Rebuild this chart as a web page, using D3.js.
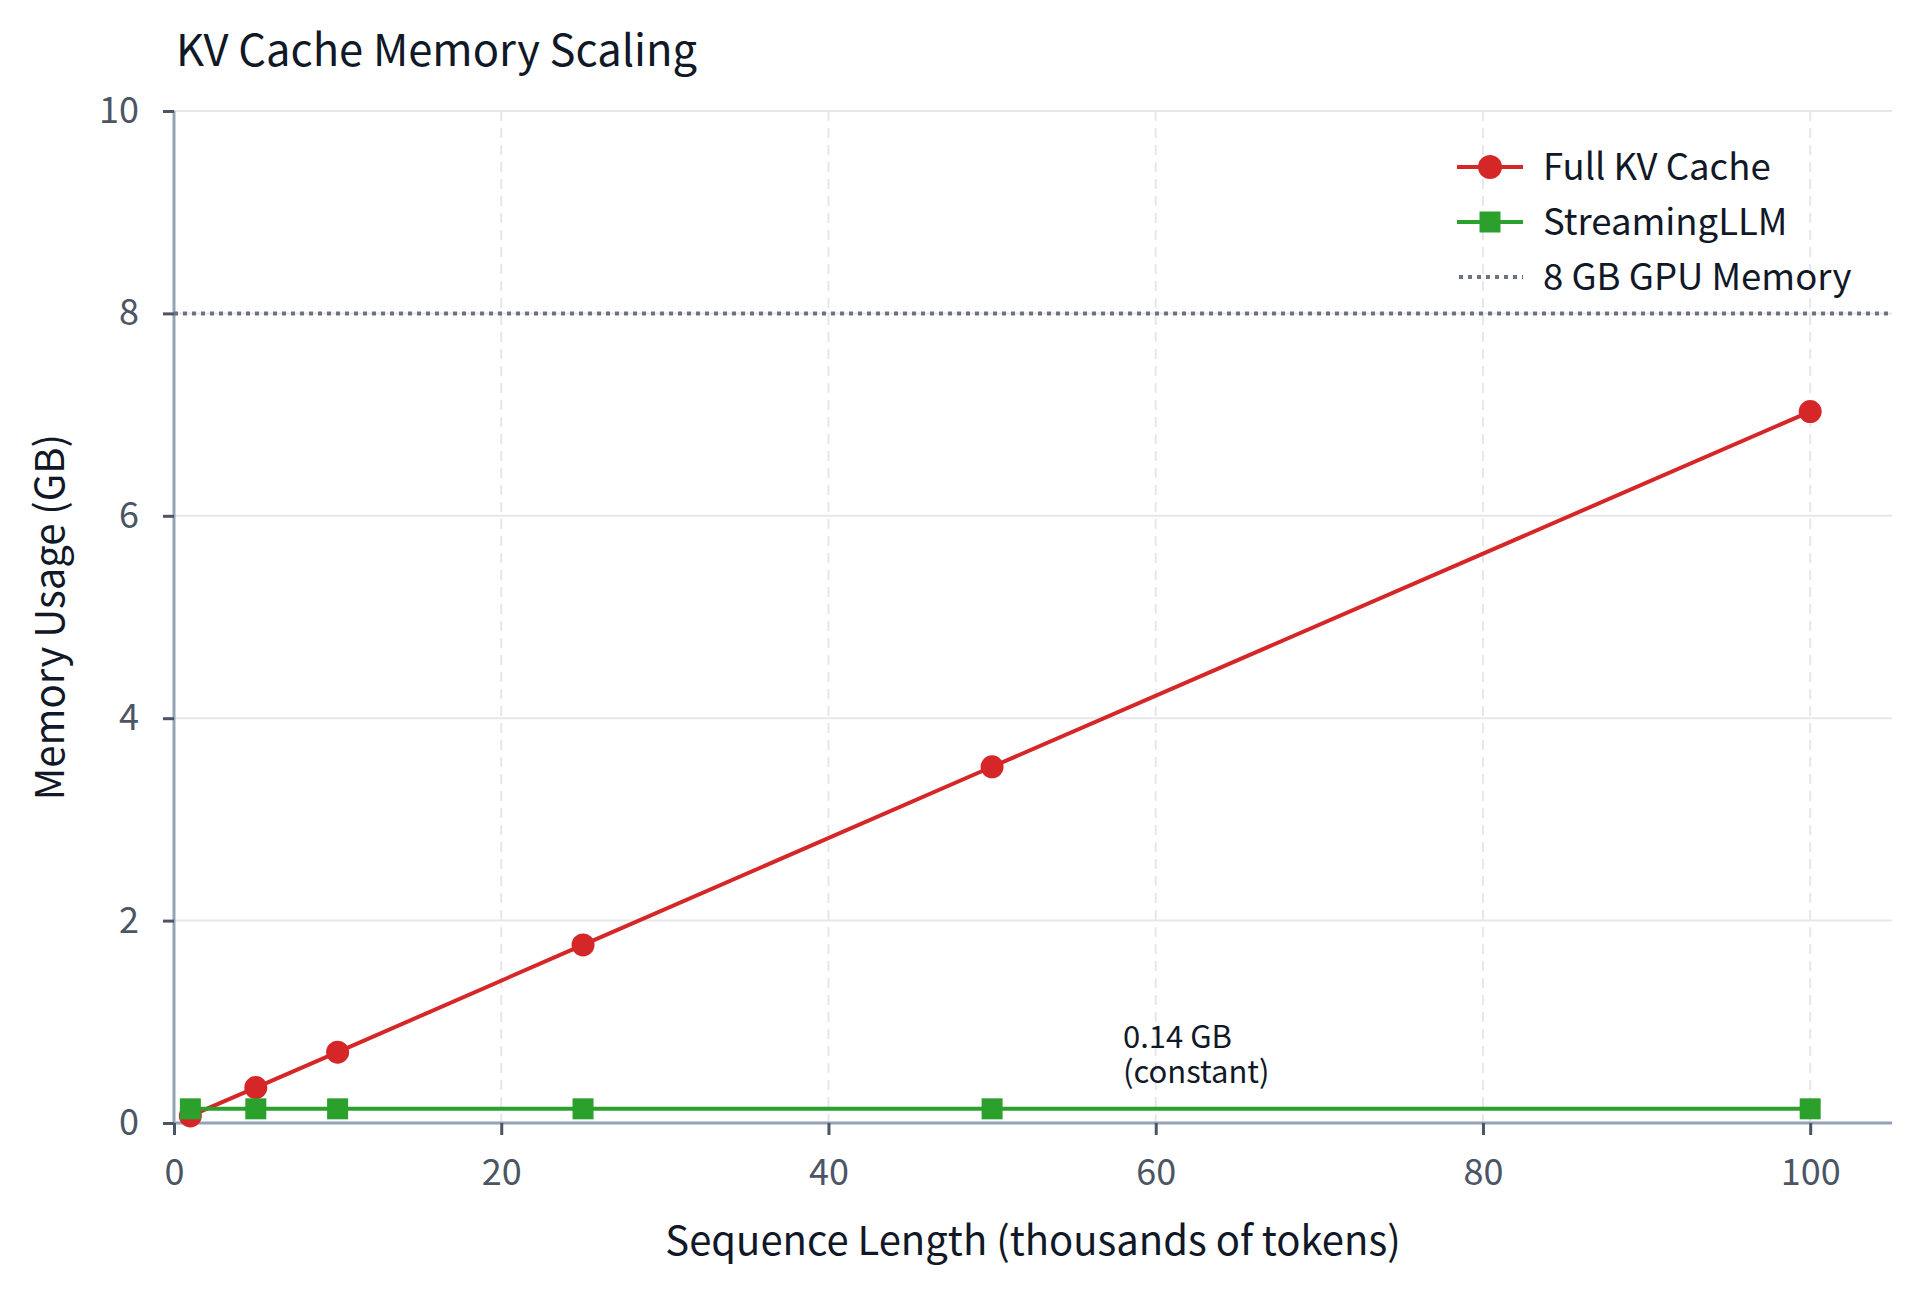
<!DOCTYPE html>
<html>
<head>
<meta charset="utf-8">
<script src="https://cdn.jsdelivr.net/npm/d3@7"></script>
<style>
  body { margin: 0; background: #fff; }
  svg, svg text { font-family: "Noto Sans CJK KR", "Noto Sans", sans-serif; }
</style>
</head>
<body>
<div class="chart"></div>
<script>
// data
var seqLengths = [1, 5, 10, 25, 50, 100];          // thousands of tokens
var fullKV = [0.07, 0.35, 0.70, 1.76, 3.52, 7.03]; // GB
var streaming = [0.14, 0.14, 0.14, 0.14, 0.14, 0.14];
var gpuLimit = 8;
var xTicks = [0, 20, 40, 60, 80, 100];
var yTicks = [0, 2, 4, 6, 8, 10];
var seriesNames = ["Full KV Cache", "StreamingLLM", "8 GB GPU Memory"];
var noteLines = ["0.14 GB", "(constant)"];
var notePos = [58, 0.40];

var svgWidth = 1920;
var svgHeight = 1292;

var margin = { top: 111, right: 28, bottom: 169, left: 174 };
var width = svgWidth - margin.left - margin.right;
var height = svgHeight - margin.top - margin.bottom;

var svg = d3.select(".chart").append("svg")
  .attr("width", svgWidth).attr("height", svgHeight);

var chartGroup = svg.append("g")
  .attr("transform", `translate(${margin.left}, ${margin.top})`);

var x = d3.scaleLinear().domain([0, 105]).range([0, width]);
var y = d3.scaleLinear().domain([0, 10]).range([height, 0]);

// grid
chartGroup.append("g").selectAll("line").data(xTicks.slice(1)).enter().append("line")
  .attr("x1", d => x(d)).attr("x2", d => x(d)).attr("y1", 0).attr("y2", height)
  .attr("stroke", "#e5e7eb").attr("stroke-width", 2).attr("stroke-dasharray", "10,7");
chartGroup.append("g").selectAll("line").data(yTicks.slice(1)).enter().append("line")
  .attr("x1", 0).attr("x2", width).attr("y1", d => y(d)).attr("y2", d => y(d))
  .attr("stroke", "#e5e7eb").attr("stroke-width", 2);

// axes
var bottomAxis = d3.axisBottom(x).tickValues(xTicks).tickSize(12).tickPadding(24);
var leftAxis = d3.axisLeft(y).tickValues(yTicks).tickSize(11).tickPadding(24);

var xg = chartGroup.append("g").attr("transform", `translate(0, ${height})`).call(bottomAxis);
var yg = chartGroup.append("g").call(leftAxis);

[xg, yg].forEach(function(g) {
  g.attr("font-family", null).attr("font-size", null);
  g.select(".domain").attr("stroke", "#94a3b8").attr("stroke-width", 3);
  g.selectAll(".tick line").attr("stroke", "#4b5563").attr("stroke-width", 3);
  g.selectAll(".tick text").attr("fill", "#4b5563").style("font-size", "36px");
});
xg.select(".domain").attr("d", `M0,0H${width}`);
yg.select(".domain").attr("d", `M0,${height}V0`);

// 8 GB limit
chartGroup.append("line")
  .attr("x1", 0).attr("x2", width).attr("y1", y(gpuLimit)).attr("y2", y(gpuLimit))
  .attr("stroke", "#6b7280").attr("stroke-width", 4).attr("stroke-dasharray", "4,5");

var line = d3.line().x((d, i) => x(seqLengths[i])).y(d => y(d));

// full KV cache
chartGroup.append("path").datum(fullKV)
  .attr("d", line).attr("fill", "none").attr("stroke", "#d62728").attr("stroke-width", 4);
chartGroup.append("g").selectAll("circle").data(fullKV).enter().append("circle")
  .attr("cx", (d, i) => x(seqLengths[i])).attr("cy", d => y(d)).attr("r", 11.5)
  .attr("fill", "#d62728");

// streaming
chartGroup.append("path").datum(streaming)
  .attr("d", line).attr("fill", "none").attr("stroke", "#2ca02c").attr("stroke-width", 4);
chartGroup.append("g").selectAll("rect").data(streaming).enter().append("rect")
  .attr("x", (d, i) => x(seqLengths[i]) - 10.5).attr("y", d => y(d) - 10.5)
  .attr("width", 21).attr("height", 21).attr("fill", "#2ca02c");

// annotation
chartGroup.append("text")
  .attr("x", x(notePos[0])).attr("y", y(notePos[1]))
  .attr("fill", "#111827").style("font-size", "31px")
  .selectAll("tspan").data(noteLines).enter().append("tspan")
  .attr("x", x(notePos[0])).attr("dy", (d, i) => i === 0 ? "-1.1em" : "1.1em")
  .text(d => d);

// titles
svg.append("text").attr("x", 176).attr("y", 66)
  .attr("fill", "#111827").style("font-size", "43.5px").text("KV Cache Memory Scaling");

svg.append("text").attr("x", margin.left + width / 2).attr("y", 1255)
  .attr("text-anchor", "middle").attr("fill", "#111827").style("font-size", "40px")
  .text("Sequence Length (thousands of tokens)");

svg.append("text")
  .attr("transform", `translate(64, ${margin.top + height / 2}) rotate(-90)`)
  .attr("text-anchor", "middle").attr("fill", "#111827").style("font-size", "40px")
  .text("Memory Usage (GB)");

// legend
var legend = svg.append("g").attr("transform", "translate(1457, 167)");
var rowGap = 55;
seriesNames.forEach(function(name, i) {
  var row = legend.append("g").attr("transform", `translate(0, ${i * rowGap})`);
  if (i === 0) {
    row.append("line").attr("x1", 0).attr("x2", 66).attr("stroke", "#d62728").attr("stroke-width", 4);
    row.append("circle").attr("cx", 33).attr("r", 12).attr("fill", "#d62728");
  } else if (i === 1) {
    row.append("line").attr("x1", 0).attr("x2", 66).attr("stroke", "#2ca02c").attr("stroke-width", 4);
    row.append("rect").attr("x", 22.5).attr("y", -10.5).attr("width", 21).attr("height", 21).attr("fill", "#2ca02c");
  } else {
    row.append("line").attr("x1", 2).attr("x2", 66).attr("stroke", "#6b7280").attr("stroke-width", 4).attr("stroke-dasharray", "4,5");
  }
  row.append("text").attr("x", 86).attr("dy", "0.35em")
    .attr("fill", "#111827").style("font-size", "36.5px").text(name);
});
</script>
</body>
</html>
